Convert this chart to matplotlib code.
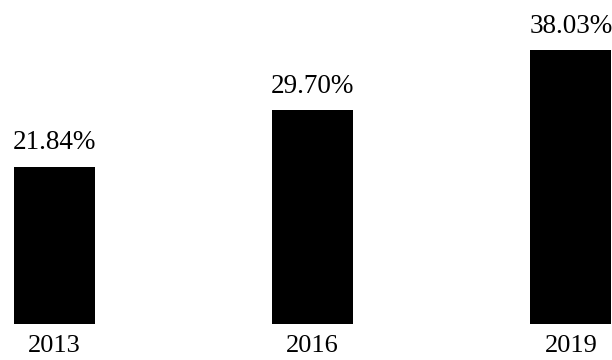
import matplotlib.pyplot as plt

years = ["2013", "2016", "2019"]
shares = [21.84, 29.70, 38.03]
value_labels = ["21.84%", "29.70%", "38.03%"]

plt.rcParams['font.family'] = ['Liberation Serif', 'DejaVu Serif']

fig = plt.figure(figsize=(6.12, 3.6), dpi=100)
ax = fig.add_axes([0, 0.1, 1, 0.899])

xs = list(range(len(years)))
bars = ax.bar(xs, shares, width=0.314, color="black")
ax.bar_label(bars, labels=value_labels, padding=8.5, fontsize=19.5)

ax.set_xlim(-0.211, 2.159)
ax.set_ylim(0, 45)
ax.set_xticks(xs)
ax.set_xticklabels(years, fontsize=19)
ax.tick_params(axis="x", length=0, pad=8)
ax.set_yticks([])
for s in ax.spines.values():
    s.set_visible(False)

fig.savefig("out.png", dpi=100)
